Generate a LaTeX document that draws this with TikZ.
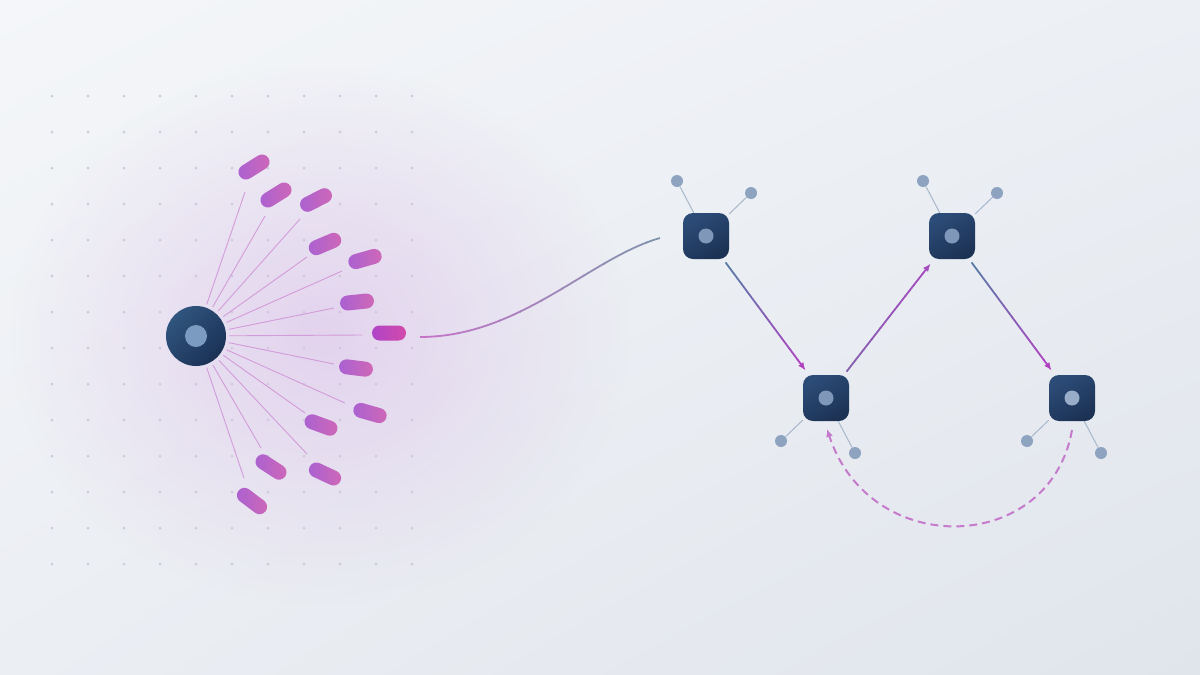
\documentclass[tikz,border=0pt]{standalone}
\usetikzlibrary{arrows.meta,fadings,calc,shadings}
\tikzfading[name=glowfade, inner color=transparent!0, outer color=transparent!100]
\definecolor{bgTL}{HTML}{F4F6F9}
\definecolor{bgTR}{HTML}{ECEFF4}
\definecolor{bgBL}{HTML}{EBEEF3}
\definecolor{bgBR}{HTML}{E0E5EC}
\definecolor{glowC}{HTML}{DCBFE9}
\definecolor{dotC}{HTML}{C9CDD6}
\definecolor{rayC}{HTML}{D39BD9}
\definecolor{pillL}{HTML}{A961D2}
\definecolor{pillR}{HTML}{D068B6}
\definecolor{pillSL}{HTML}{B044C8}
\definecolor{pillSR}{HTML}{D24AAA}
\definecolor{hubT}{HTML}{30557F}
\definecolor{hubB}{HTML}{1B3155}
\definecolor{hubD}{HTML}{7B9CC0}
\definecolor{sqT}{HTML}{2C4C78}
\definecolor{sqB}{HTML}{1C3254}
\definecolor{sqD}{HTML}{7F98BA}
\definecolor{satC}{HTML}{8EA3C0}
\definecolor{satL}{HTML}{A8B7CB}
\definecolor{curveL}{HTML}{C574C8}
\definecolor{curveR}{HTML}{8294AC}
\definecolor{arTop}{HTML}{5C7AA8}
\definecolor{arBot}{HTML}{B042C2}
\definecolor{bcS}{HTML}{855EAE}
\definecolor{bcE}{HTML}{A64ABF}
\definecolor{dashC}{HTML}{C57ACB}
\begin{document}
\begin{tikzpicture}[x=1pt,y=-1pt,
  pill/.style={rectangle, rounded corners=7.5pt, minimum width=34pt, minimum height=15pt, inner sep=0pt, left color=pillL, right color=pillR},
  pillstrong/.style={pill, left color=pillSL, right color=pillSR},
  hubnode/.style={circle, minimum size=60pt, inner sep=0pt, outer sep=3.5pt, top color=hubT, bottom color=hubB, shading angle=45},
  hubdot/.style={circle, minimum size=22pt, inner sep=0pt, fill=hubD},
  sqnode/.style={rectangle, rounded corners=10pt, minimum size=46pt, inner sep=0pt, top color=sqT, bottom color=sqB, shading angle=30},
  sqdot/.style={circle, minimum size=15pt, inner sep=0pt, fill=sqD},
  sat/.style={circle, minimum size=12pt, inner sep=0pt, fill=satC},
  satline/.style={draw=satL, line width=1pt},
  ray/.style={draw=rayC, line width=0.9pt},
  dashline/.style={draw=dashC, line width=2pt, dash pattern=on 8pt off 5pt}
]
\useasboundingbox (0,0) rectangle (1200,675);
\shade[upper left=bgTL, upper right=bgTR, lower left=bgBL, lower right=bgBR] (0,0) rectangle (1200,675);

% dot grid
\foreach \i in {0,...,10}{
  \foreach \j in {0,...,13}{
    \fill[dotC] (52+36*\i, 96+36*\j) circle (1.5pt);
  }
}

% glow
\fill[glowC, path fading=glowfade, fill opacity=0.6] (320,335) ellipse [x radius=310pt, y radius=270pt];

% hub
\node[hubnode] (hub) at (196,336) {};
\node[hubdot] (hubc) at (196,336) {};

% ray ends and pills
\foreach \n/\rx/\ry/\px/\py/\ang in {
  1/245/192/254/167/32, 2/265/216/276/195/32, 3/300/219/316/200/27,
  4/307/257/325/244/23, 5/342/271/365/259/16, 6/334/308/357/302/6,
  8/334/364/356/368/-7, 9/345/403/370/413/-16, 10/305/413/321/425/-20,
  11/261/448/271/467/-33, 12/307/454/325/474/-25, 13/244/478/252/501/-37}{
  \coordinate (r\n) at (\rx,\ry);
  \draw[ray] (hub) -- (r\n);
  \node[pill, rotate=\ang] (p\n) at (\px,\py) {};
}
\coordinate (r7) at (362,335);
\draw[ray] (hub) -- (r7);
\node[pillstrong] (p7) at (389,333) {};

% curve from fan to network (colour strips)
\coordinate (cs) at (420,337);
\coordinate (ce) at (660,238);
\foreach \i in {0,...,11}{
  \pgfmathtruncatemacro\p{100-\i*100/11}
  \begin{scope}
    \clip (415+\i*21, 220) rectangle (437+\i*21, 350);
    \draw[line width=1.8pt, color=curveL!\p!curveR] (cs) .. controls (520,337) and (590,258) .. (ce);
  \end{scope}
}

% network squares
\node[sqnode] (A) at (706,236) {};
\node[sqnode] (B) at (826,398) {};
\node[sqnode] (C) at (952,236) {};
\node[sqnode] (D) at (1072,398) {};
\node[sqdot] (Ad) at (706,236) {};
\node[sqdot] (Bd) at (826,398) {};
\node[sqdot] (Cd) at (952,236) {};
\node[sqdot, fill=sqD!80!white] (Dd) at (1072,398) {};

% satellites
\node[sat] (a1) at (677,181) {};
\node[sat] (a2) at (751,193) {};
\node[sat] (c1) at (923,181) {};
\node[sat] (c2) at (997,193) {};
\node[sat] (b1) at (781,441) {};
\node[sat] (b2) at (855,453) {};
\node[sat] (d1) at (1027,441) {};
\node[sat] (d2) at (1101,453) {};
\foreach \s/\t in {A/a1, A/a2, C/c1, C/c2, B/b1, B/b2, D/d1, D/d2}{
  \draw[satline] (\s) -- (\t);
}

% gradient arrows
\foreach \a/\b/\cA/\cB in {A/B/arTop/arBot, B/C/bcS/bcE, C/D/arTop/arBot}{
  \foreach \k in {0,...,8}{
    \pgfmathsetmacro\ta{0.163+0.667*\k/10}
    \pgfmathsetmacro\tb{0.163+0.667*(\k+1)/10+0.003}
    \pgfmathtruncatemacro\p{\k*100/9}
    \draw[line width=1.8pt, color=\cB!\p!\cA] ($(\a)!\ta!(\b)$) -- ($(\a)!\tb!(\b)$);
  }
  \draw[line width=1.8pt, color=\cB, -{Latex[length=8pt,width=6.5pt]}] ($(\a)!0.7633!(\b)$) -- ($(\a)!0.83!(\b)$);
}

% dashed return arc
\coordinate (dS) at (1072,430);
\coordinate (dE) at (827,429);
\draw[dashline, -{Latex[length=8pt,width=7pt]}] (dS) .. controls (1050,555) and (870,560) .. (dE);
\end{tikzpicture}
\end{document}
